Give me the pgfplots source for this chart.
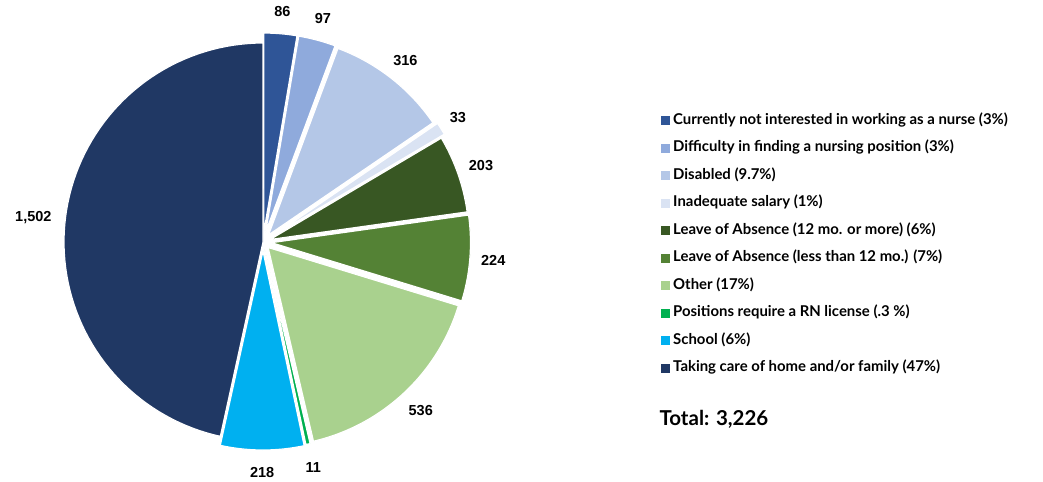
\documentclass[border=0pt]{standalone}
\usepackage{fontspec}
\setmainfont{Liberation Sans}
\newfontfamily\legfont{Lato}
\usepackage{pgfplots}
\usepackage{pgfplotstable}
\pgfplotsset{compat=1.18}

\definecolor{s0}{HTML}{2F5597}
\definecolor{s1}{HTML}{8FAADC}
\definecolor{s2}{HTML}{B4C7E7}
\definecolor{s3}{HTML}{DAE3F3}
\definecolor{s4}{HTML}{385723}
\definecolor{s5}{HTML}{548235}
\definecolor{s6}{HTML}{A9D18E}
\definecolor{s7}{HTML}{00B050}
\definecolor{s8}{HTML}{00B0F0}
\definecolor{s9}{HTML}{203864}

% value and explosion offset (px) of each slice, clockwise from 12 o'clock
\pgfplotstableread{
val expl
86 10
97 10
316 9
33 12
203 7.5
224 8.5
536 7.5
11 8
218 9
1502 0
}\piedata

\pgfkeys{/pgf/number format/.cd,1000 sep={,},assume math mode=true}
\newcommand\labfont{\bfseries\fontsize{14.5}{16}\selectfont}

\pgfmathsetmacro\total{0}
\pgfplotsforeachungrouped \i in {0,...,9}{%
  \pgfplotstablegetelem{\i}{val}\of\piedata
  \pgfmathsetmacro\total{\total+\pgfplotsretval}%
}

\begin{document}
\begin{tikzpicture}
\begin{axis}[
  hide axis, x=1pt, y=1pt, xmin=0, xmax=1043, ymin=0, ymax=478,
  clip=false, anchor=origin, at={(0,0)},
  legend image code/.code={\fill[#1,draw=none] (0pt,-4.5pt) rectangle (9pt,4.5pt);},
  legend cell align=left,
  legend style={at={(axis cs:661,364)}, anchor=north west, draw=none, fill=none,
    inner sep=0pt, row sep=14.5pt, column sep=0pt,
    font=\legfont\bfseries\fontsize{14.9}{16}\selectfont,
    nodes={inner sep=0pt, inner xsep=3pt, text height=10pt, text depth=3pt}},
]
\path (axis cs:0,0) rectangle (axis cs:1043,478);
\def\cum{0}
\pgfplotsforeachungrouped \i in {0,...,9}{%
  \pgfplotstablegetelem{\i}{val}\of\piedata \let\v\pgfplotsretval
  \pgfplotstablegetelem{\i}{expl}\of\piedata \let\e\pgfplotsretval
  \pgfmathsetmacro\aa{\cum/\total*360}%
  \pgfmathsetmacro\cum{\cum+\v}%
  \pgfmathsetmacro\bb{\cum/\total*360}%
  \pgfmathsetmacro\mm{(\aa+\bb)/2}%
  \pgfmathsetmacro\ox{263+\e*sin(\mm)}%
  \pgfmathsetmacro\oy{236+\e*cos(\mm)}%
  \pgfmathsetmacro\lx{263+231*sin(\mm)}%
  \pgfmathsetmacro\ly{236+231*cos(\mm)}%
  \edef\cmd{\noexpand\addplot[fill=s\i, draw=white, line width=1.2pt, domain=\aa:\bb, samples=80]
     ({\ox+199*sin(x)},{\oy+199*cos(x)}) -- (axis cs:\ox,\oy) -- cycle;
     \noexpand\node[font=\noexpand\labfont] at (axis cs:\lx,\ly) {\noexpand\pgfmathprintnumber{\v}};}%
  \cmd
}
\legend{Currently not interested in working as a nurse (3\%),
  Difficulty in finding a nursing position (3\%),
  Disabled (9.7\%),
  Inadequate salary (1\%),
  Leave of Absence (12 mo. or more) (6\%),
  Leave of Absence (less than 12 mo.) (7\%),
  Other (17\%),
  Positions require a RN license (.3 \%),
  School (6\%),
  Taking care of home and/or family (47\%)}
\node[anchor=base west, font=\legfont\bfseries\fontsize{20.5}{24}\selectfont] at (axis cs:656,52.5) {Total: \pgfmathprintnumber{\total}};
\end{axis}
\end{tikzpicture}
\end{document}
